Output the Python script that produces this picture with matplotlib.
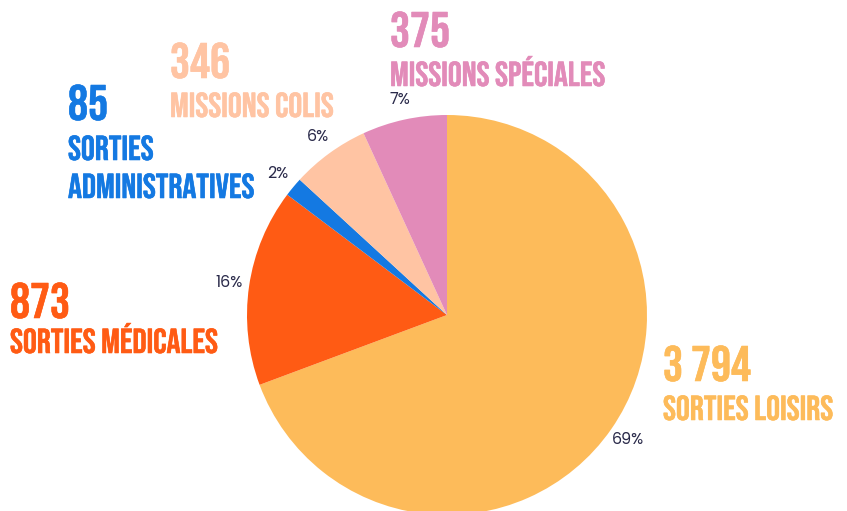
import matplotlib.pyplot as plt
import matplotlib.patheffects as pe
from matplotlib import font_manager

# categories, clockwise from the top
labels = ["SORTIES LOISIRS", "SORTIES MÉDICALES", "SORTIES\nADMINISTRATIVES",
          "MISSIONS COLIS", "MISSIONS SPÉCIALES"]
values = [3794, 873, 85, 346, 375]
value_text = ["3 794", "873", "85", "346", "375"]
colors = ["#FDBB5A", "#FF5B14", "#1479E2", "#FFC4A3", "#E28BB9"]

W, H = 847, 511

names = {f.name for f in font_manager.fontManager.ttflist}


def pick(*cands):
    for c in cands:
        if c in names:
            return c
    return "DejaVu Sans"


title_font = pick("Bebas Neue", "Oswald", "Roboto Condensed")
pct_font = pick("Poppins", "Inter", "DejaVu Sans")

fig = plt.figure(figsize=(W / 100, H / 100), dpi=100)
ax = fig.add_axes([0, 0, 1, 1])

wedges, _, pcts = ax.pie(values, colors=colors, startangle=90, counterclock=False,
                         center=(447, H - 315), radius=200, autopct='%.0f%%',
                         pctdistance=1.1,
                         textprops=dict(color="#2A2A4A", fontsize=11.5, family=pct_font))
ax.set_xlim(0, W)
ax.set_ylim(0, H)
ax.set_aspect('equal')
ax.axis('off')

# (x, baseline of number, baseline of first label line) in pixels
label_pos = [(663, 381, 420), (10, 318, 353), (68, 120, 160), (170, 78, 117), (390, 47, 86)]


def px(x, y):
    return x / W, 1 - y / H


for lab, num, col, (x, yn, yl) in zip(labels, value_text, colors, label_pos):
    # very thin stroke in the same colour, Bebas is a touch lighter than the original
    bold = [pe.withStroke(linewidth=0.4, foreground=col)]
    fig.text(*px(x, yn), num, color=col, fontsize=36, family=title_font,
             va='baseline', ha='left', path_effects=bold)
    for i, line in enumerate(lab.split("\n")):
        fig.text(*px(x, yl + i * 38), line, color=col, fontsize=25,
                 family=title_font, va='baseline', ha='left', path_effects=bold)

fig.savefig("out.png", dpi=100)
